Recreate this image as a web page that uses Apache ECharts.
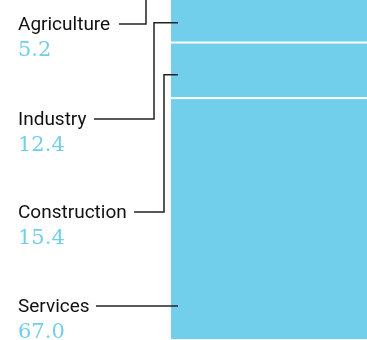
<!DOCTYPE html>
<html><head><meta charset="utf-8">
<script src="https://cdn.jsdelivr.net/npm/echarts@6/dist/echarts.min.js"></script>
<style>html,body{margin:0;padding:0;background:#fff;overflow:hidden}#c{width:387px;height:361px;margin-top:-21px}</style>
</head><body><div id="c"></div>
<script>
// Data
const categories = ['Agriculture', 'Industry', 'Construction', 'Services'];
const values = [5.2, 12.4, 15.4, 67.0];
const valueLabels = ['5.2', '12.4', '15.4', '67.0'];
// where each leader line touches the bar, as a fraction of its segment
const anchorFractions = [0.5, 0.44, 0.42, 0.14];

const BAR = '#72cfeb';
const OFF = 21; // chart div is shifted up by this much
const chart = echarts.init(document.getElementById('c'), null, {renderer: 'canvas'});

// stack from bottom: Services, Construction, Industry, Agriculture
const order = [3, 2, 1, 0];
const series = order.map(i => ({
  name: categories[i], type: 'bar', stack: 'total',
  data: [values[i]], barWidth: '100%',
  itemStyle: {color: BAR, borderColor: '#fff', borderWidth: 1},
  silent: true, animation: false
}));

chart.setOption({
  animation: false,
  grid: {left: 170, right: 0, top: 0, bottom: 0, containLabel: false},
  xAxis: {type: 'category', data: ['x'], show: false, boundaryGap: true},
  yAxis: {type: 'value', min: 0, max: 100, show: false},
  series: series
});

const base = {};
let acc = 0;
order.forEach(i => { base[i] = acc; acc += values[i]; });

const labelBaseY = [30, 125, 218, 312];
const elbowX = [146, 154, 164, null];
const labelEndX = [119, 94, 134, 96];
const graphics = [];
categories.forEach((name, i) => {
  const v = base[i] + values[i] * anchorFractions[i];
  const p = chart.convertToPixel({gridIndex: 0}, ['x', v]);
  const ay = p[1];
  const barLeft = 170;
  const ly = labelBaseY[i] + OFF;
  const lineY = ly - 6;
  graphics.push({type: 'text', left: 18, top: ly - 14,
    style: {text: name, font: '19px Roboto', fill: '#111'}});
  graphics.push({type: 'text', left: 18, top: ly + 10,
    style: {text: valueLabels[i], font: '21px "DejaVu Serif"', fill: BAR}});
  let pts;
  if (elbowX[i] === null) {
    pts = [[labelEndX[i], lineY], [barLeft + 8, lineY]];
  } else {
    pts = [[labelEndX[i], lineY], [elbowX[i], lineY], [elbowX[i], ay], [barLeft + 8, ay]];
  }
  graphics.push({type: 'polyline', shape: {points: pts},
    style: {stroke: '#222', lineWidth: 1.5, fill: null}, z: 100});
});
chart.setOption({graphic: graphics});
</script>
</body></html>
